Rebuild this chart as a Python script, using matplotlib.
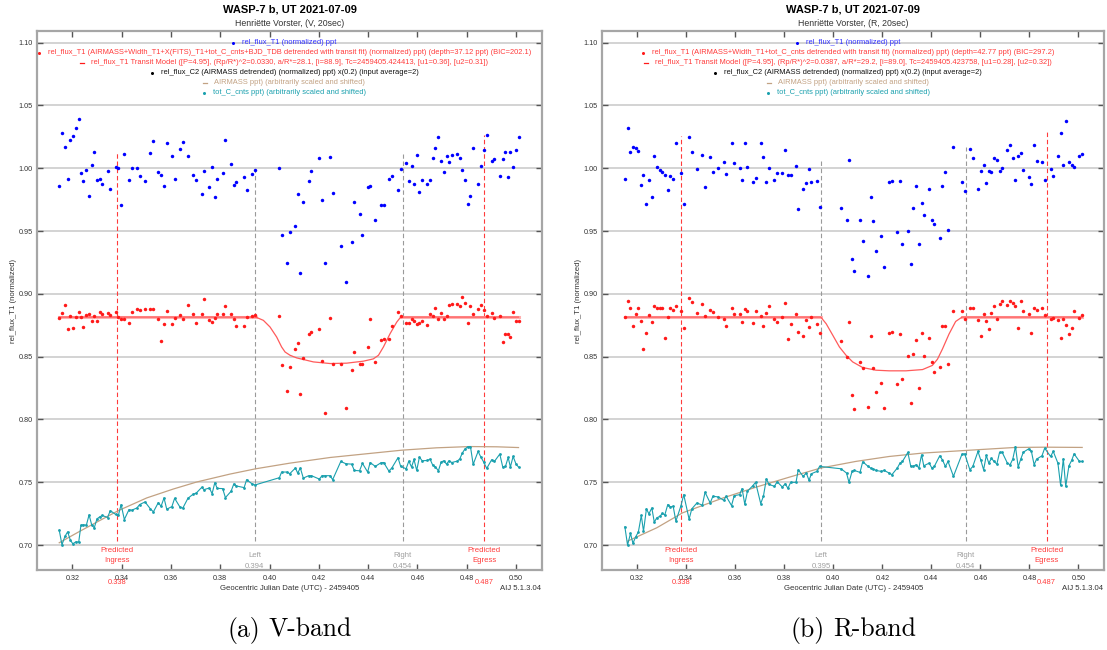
import matplotlib
matplotlib.use("Agg")
import matplotlib.pyplot as plt
from matplotlib.lines import Line2D

plt.rcParams['font.family'] = ['Liberation Sans', 'DejaVu Sans']

# ---------------- V-band data ----------------
tV = [0.3147, 0.3158, 0.3170, 0.3181, 0.3192, 0.3202, 0.3215, 0.3226, 0.3235, 0.3245,
      0.3257, 0.3268, 0.3279, 0.3289, 0.3300, 0.3311, 0.3322, 0.3343, 0.3354, 0.3376,
      0.3387, 0.3398, 0.3411, 0.3430, 0.3441, 0.3462, 0.3473, 0.3495, 0.3517, 0.3529,
      0.3549, 0.3560, 0.3572, 0.3583, 0.3604, 0.3615, 0.3637, 0.3648, 0.3669, 0.3691,
      0.3702, 0.3725, 0.3734, 0.3756, 0.3767, 0.3778, 0.3788, 0.3810, 0.3821, 0.3844,
      0.3855, 0.3866, 0.3897, 0.3907, 0.3930, 0.3941,
      0.4040, 0.4049, 0.4071, 0.4082, 0.4105, 0.4114, 0.4125, 0.4137, 0.4159, 0.4170,
      0.4202, 0.4213, 0.4224, 0.4246, 0.4256, 0.4289, 0.4310, 0.4333, 0.4344, 0.4365,
      0.4377, 0.4398, 0.4408, 0.4429, 0.4452, 0.4463, 0.4484, 0.4496,
      0.4521, 0.4532, 0.4554, 0.4565, 0.4576, 0.4586, 0.4597, 0.4608, 0.4619, 0.4640,
      0.4651, 0.4662, 0.4673, 0.4685, 0.4696, 0.4707, 0.4718, 0.4728, 0.4739, 0.4762,
      0.4772, 0.4782, 0.4792, 0.4804, 0.4815, 0.4826, 0.4846, 0.4858, 0.4868, 0.4881,
      0.4901, 0.4912, 0.4934, 0.4946, 0.4957, 0.4968, 0.4977, 0.4988, 0.5000, 0.5010]

blueV = [0.9858, 1.0283, 1.0173, 0.9917, 1.0229, 1.0259, 1.0323, 1.0392, 0.9960, 0.9898,
         0.9989, 0.9776, 1.0029, 1.0133, 0.9906, 0.9914, 0.9877, 0.9978, 0.9832, 1.0008,
         1.0002, 0.9711, 1.0115, 0.9906, 1.0005, 1.0002, 0.9936, 0.9898, 1.0123, 1.0219,
         0.9968, 0.9946, 0.9858, 1.0203, 1.0096, 0.9917, 1.0157, 1.0208, 1.0096, 0.9944,
         0.9904, 0.9797, 0.9981, 0.9848, 1.0008, 0.9770, 0.9917, 0.9962, 1.0227, 1.0034,
         0.9864, 0.9888, 0.9933, 0.9824, 0.9952, 0.9989,
         1.0002, 0.9471, 0.9242, 0.9490, 0.9538, 0.9792, 0.9167, 0.9733, 0.9898, 0.9978,
         1.0080, 0.9749, 0.9247, 1.0093, 0.9802, 0.9380, 0.9095, 0.9412, 0.9733, 0.9637,
         0.9466, 0.9853, 0.9861, 0.9586, 0.9711, 0.9711, 0.9914, 0.9941,
         0.9824, 0.9994, 1.0045, 0.9896, 1.0018, 0.9872, 1.0109, 0.9810, 0.9904, 0.9877,
         0.9904, 1.0080, 1.0163, 1.0248, 1.0058, 0.9973, 1.0099, 1.0050, 1.0104, 1.0115,
         1.0085, 0.9986, 0.9904, 0.9717, 0.9781, 1.0163, 0.9874, 1.0018, 1.0149, 1.0264,
         1.0058, 1.0077, 0.9936, 1.0077, 1.0128, 0.9928, 1.0133, 1.0010, 1.0149, 1.0248]

redV = [0.8807, 0.8849, 0.8915, 0.8717, 0.8826, 0.8725, 0.8818, 0.8857, 0.8818, 0.8736,
        0.8834, 0.8841, 0.8786, 0.8826, 0.8786, 0.8857, 0.8841, 0.8844, 0.8834, 0.8857,
        0.8815, 0.8797, 0.8797, 0.8767, 0.8857, 0.8876, 0.8868, 0.8876, 0.8876, 0.8876,
        0.8799, 0.8627, 0.8762, 0.8860, 0.8757, 0.8810, 0.8831, 0.8797, 0.8913, 0.8841,
        0.8767, 0.8839, 0.8960, 0.8794, 0.8778, 0.8807, 0.8836, 0.8836, 0.8902, 0.8836,
        0.8797, 0.8746, 0.8746, 0.8812, 0.8820, 0.8828,
        0.8823, 0.8434, 0.8226, 0.8419, 0.8559, 0.8609, 0.8202, 0.8490, 0.8683, 0.8699,
        0.8723, 0.8469, 0.8049, 0.8807, 0.8440, 0.8445, 0.8094, 0.8392, 0.8535, 0.8445,
        0.8445, 0.8580, 0.8802, 0.8461, 0.8633, 0.8643, 0.8641, 0.8746,
        0.8857, 0.8823, 0.8767, 0.8767, 0.8799, 0.8786, 0.8757, 0.8767, 0.8786, 0.8754,
        0.8841, 0.8820, 0.8889, 0.8802, 0.8847, 0.8802, 0.8826, 0.8915, 0.8921, 0.8923,
        0.8907, 0.8976, 0.8926, 0.8765, 0.8907, 0.8839, 0.8881, 0.8910, 0.8873, 0.8826,
        0.8847, 0.8804, 0.8823, 0.8614, 0.8677, 0.8683, 0.8659, 0.8857, 0.8783, 0.8786]

cyanV = [0.7118, 0.7002, 0.7068, 0.7105, 0.7039, 0.7010, 0.7026, 0.7023, 0.7158, 0.7161,
         0.7158, 0.7240, 0.7158, 0.7137, 0.7208, 0.7224, 0.7235, 0.7219, 0.7274, 0.7243,
         0.7237, 0.7322, 0.7203, 0.7282, 0.7277, 0.7295, 0.7322, 0.7343, 0.7287, 0.7264,
         0.7338, 0.7308, 0.7375, 0.7285, 0.7306, 0.7372, 0.7301, 0.7293, 0.7372, 0.7406,
         0.7412, 0.7459, 0.7441, 0.7454, 0.7409, 0.7496, 0.7451, 0.7449, 0.7377, 0.7428,
         0.7486, 0.7470, 0.7457, 0.7520, 0.7486, 0.7478,
         0.7536, 0.7581, 0.7581, 0.7568, 0.7613, 0.7573, 0.7613, 0.7533, 0.7552, 0.7552,
         0.7525, 0.7552, 0.7552, 0.7552, 0.7520, 0.7665, 0.7647, 0.7644, 0.7594, 0.7591,
         0.7650, 0.7581, 0.7657, 0.7626, 0.7655, 0.7657, 0.7589, 0.7613,
         0.7695, 0.7626, 0.7607, 0.7668, 0.7621, 0.7681, 0.7594, 0.7700, 0.7671, 0.7673,
         0.7684, 0.7636, 0.7621, 0.7591, 0.7660, 0.7671, 0.7644, 0.7671, 0.7657, 0.7668,
         0.7687, 0.7732, 0.7763, 0.7782, 0.7784, 0.7642, 0.7745, 0.7697, 0.7663, 0.7610,
         0.7679, 0.7665, 0.7724, 0.7621, 0.7626, 0.7697, 0.7621, 0.7705, 0.7644, 0.7621]

model_tV = [0.3147, 0.3944, 0.3975, 0.4002, 0.4029, 0.4049, 0.4063, 0.4083, 0.4110, 0.4178,
            0.4246, 0.4313, 0.4381, 0.4421, 0.4442, 0.4462, 0.4489, 0.4516, 0.4532, 0.5010]
modelV = [0.8815, 0.8815, 0.8789, 0.8736, 0.8656, 0.8577, 0.8537, 0.8511, 0.8490, 0.8458,
          0.8445, 0.8448, 0.8464, 0.8482, 0.8511, 0.8577, 0.8683, 0.8775, 0.8815, 0.8815]

airm_tV = [0.3147, 0.3231, 0.3299, 0.3387, 0.3502, 0.3610, 0.3705, 0.3840, 0.3944, 0.4083,
           0.4246, 0.4381, 0.4536, 0.4678, 0.4813, 0.4922, 0.5010]
airmV = [0.7018, 0.7110, 0.7182, 0.7274, 0.7375, 0.7446, 0.7502, 0.7565, 0.7607, 0.7652,
         0.7697, 0.7724, 0.7755, 0.7774, 0.7784, 0.7782, 0.7776]

# ---------------- R-band data ----------------
tR = [0.3150, 0.3161, 0.3173, 0.3183, 0.3194, 0.3205, 0.3217, 0.3226, 0.3238, 0.3248,
      0.3260, 0.3270, 0.3280, 0.3293, 0.3303, 0.3313, 0.3325, 0.3336, 0.3347, 0.3358,
      0.3379, 0.3390, 0.3412, 0.3423, 0.3444, 0.3466, 0.3477, 0.3498, 0.3509, 0.3531,
      0.3553, 0.3563, 0.3585, 0.3596, 0.3618, 0.3628, 0.3639, 0.3650, 0.3672, 0.3683,
      0.3704, 0.3715, 0.3727, 0.3738, 0.3760, 0.3771, 0.3792, 0.3804, 0.3815, 0.3826,
      0.3848, 0.3857, 0.3877, 0.3890, 0.3901, 0.3911, 0.3933, 0.3944,
      0.4032, 0.4054, 0.4064, 0.4077, 0.4086, 0.4109, 0.4120, 0.4142, 0.4152, 0.4163,
      0.4174, 0.4196, 0.4207, 0.4228, 0.4239, 0.4261, 0.4272, 0.4282, 0.4304, 0.4316,
      0.4327, 0.4338, 0.4349, 0.4360, 0.4369, 0.4391, 0.4402, 0.4412, 0.4434, 0.4445,
      0.4457, 0.4468, 0.4490,
      0.4525, 0.4536, 0.4557, 0.4569, 0.4590, 0.4601, 0.4613, 0.4624, 0.4634, 0.4645,
      0.4656, 0.4667, 0.4678, 0.4689, 0.4710, 0.4721, 0.4732, 0.4743, 0.4754, 0.4764,
      0.4775, 0.4797, 0.4808, 0.4819, 0.4829, 0.4851, 0.4862, 0.4886, 0.4897, 0.4916,
      0.4927, 0.4938, 0.4948, 0.4961, 0.4972, 0.4982, 0.5004, 0.5015]

blueR = [0.9912, 1.0323, 1.0128, 1.0171, 1.0160, 1.0139, 0.9869, 0.9949, 0.9717, 0.9906,
         0.9770, 1.0098, 1.0013, 0.9989, 0.9968, 0.9949, 0.9824, 0.9936, 0.9917, 1.0200,
         0.9960, 0.9717, 1.0248, 1.0128, 0.9992, 1.0109, 0.9848, 1.0093, 0.9973, 1.0000,
         1.0048, 0.9952, 1.0200, 1.0042, 1.0000, 0.9906, 1.0203, 1.0013, 0.9893, 0.9920,
         1.0200, 1.0088, 0.9893, 1.0002, 0.9904, 0.9960, 0.9960, 1.0147, 0.9949, 0.9949,
         1.0016, 0.9677, 0.9837, 0.9880, 0.9992, 0.9893, 0.9898, 0.9695,
         0.9682, 0.9586, 1.0064, 0.9279, 0.9180, 0.9591, 0.9423, 0.9140, 0.9773, 0.9581,
         0.9338, 0.9461, 0.9212, 0.9888, 0.9898, 0.9492, 0.9898, 0.9396, 0.9500, 0.9236,
         0.9682, 0.9858, 0.9396, 0.9722, 0.9631, 0.9837, 0.9591, 0.9557, 0.9447, 0.9858,
         0.9973, 0.9511, 1.0173,
         0.9888, 0.9821, 1.0157, 1.0082, 0.9832, 0.9981, 1.0029, 0.9880, 0.9976, 0.9973,
         1.0082, 1.0066, 0.9976, 1.0002, 1.0147, 1.0184, 1.0082, 0.9904, 1.0098, 1.0123,
         0.9984, 0.9928, 0.9872, 1.0184, 1.0061, 1.0053, 0.9904, 0.9997, 0.9941, 1.0098,
         1.0283, 1.0026, 1.0379, 1.0053, 1.0026, 1.0010, 1.0096, 1.0112]

redR = [0.8812, 0.8942, 0.8886, 0.8746, 0.8841, 0.8886, 0.8781, 0.8564, 0.8688, 0.8834,
        0.8775, 0.8900, 0.8886, 0.8886, 0.8884, 0.8649, 0.8818, 0.8886, 0.8873, 0.8905,
        0.8860, 0.8728, 0.8968, 0.8939, 0.8847, 0.8921, 0.8826, 0.8873, 0.8855, 0.8812,
        0.8802, 0.8746, 0.8886, 0.8841, 0.8836, 0.8773, 0.8881, 0.8863, 0.8767, 0.8863,
        0.8826, 0.8746, 0.8847, 0.8902, 0.8802, 0.8773, 0.8812, 0.8931, 0.8643, 0.8762,
        0.8836, 0.8693, 0.8662, 0.8789, 0.8738, 0.8815, 0.8762, 0.8691,
        0.8622, 0.8495, 0.8773, 0.8191, 0.8083, 0.8461, 0.8411, 0.8099, 0.8662, 0.8411,
        0.8220, 0.8289, 0.8088, 0.8691, 0.8696, 0.8281, 0.8683, 0.8323, 0.8508, 0.8128,
        0.8519, 0.8633, 0.8247, 0.8688, 0.8503, 0.8646, 0.8458, 0.8379, 0.8416, 0.8746,
        0.8741, 0.8445, 0.8863,
        0.8863, 0.8799, 0.8886, 0.8886, 0.8794, 0.8662, 0.8841, 0.8783, 0.8720, 0.8849,
        0.8902, 0.8797, 0.8921, 0.8947, 0.8910, 0.8944, 0.8931, 0.8902, 0.8730, 0.8947,
        0.8865, 0.8841, 0.8688, 0.8889, 0.8870, 0.8886, 0.8828, 0.8799, 0.8807, 0.8794,
        0.8646, 0.8797, 0.8749, 0.8678, 0.8725, 0.8863, 0.8807, 0.8834]

cyanR = [0.7145, 0.6999, 0.7092, 0.7013, 0.7065, 0.7103, 0.7235, 0.7110, 0.7288, 0.7248,
         0.7295, 0.7182, 0.7216, 0.7229, 0.7251, 0.7240, 0.7322, 0.7303, 0.7309, 0.7190,
         0.7314, 0.7401, 0.7206, 0.7288, 0.7335, 0.7317, 0.7420, 0.7335, 0.7388, 0.7383,
         0.7356, 0.7388, 0.7314, 0.7393, 0.7401, 0.7449, 0.7325, 0.7428, 0.7473, 0.7499,
         0.7330, 0.7388, 0.7525, 0.7483, 0.7467, 0.7504, 0.7462, 0.7488, 0.7451, 0.7499,
         0.7499, 0.7599, 0.7547, 0.7573, 0.7515, 0.7568, 0.7586, 0.7626,
         0.7607, 0.7573, 0.7499, 0.7589, 0.7594, 0.7578, 0.7663, 0.7626, 0.7613, 0.7605,
         0.7594, 0.7586, 0.7594, 0.7573, 0.7560, 0.7613, 0.7652, 0.7665, 0.7737, 0.7626,
         0.7628, 0.7639, 0.7613, 0.7718, 0.7631, 0.7652, 0.7613, 0.7626, 0.7710, 0.7679,
         0.7626, 0.7665, 0.7547,
         0.7724, 0.7726, 0.7599, 0.7626, 0.7745, 0.7679, 0.7599, 0.7713, 0.7652, 0.7689,
         0.7665, 0.7644, 0.7737, 0.7737, 0.7652, 0.7639, 0.7684, 0.7784, 0.7621, 0.7681,
         0.7739, 0.7766, 0.7745, 0.7639, 0.7684, 0.7710, 0.7771, 0.7705, 0.7745, 0.7652,
         0.7475, 0.7687, 0.7467, 0.7631, 0.7673, 0.7726, 0.7665, 0.7665]

model_tR = [0.3150, 0.3949, 0.3971, 0.3998, 0.4025, 0.4052, 0.4079, 0.4120, 0.4174, 0.4228,
            0.4296, 0.4364, 0.4404, 0.4425, 0.4445, 0.4472, 0.4499, 0.4525, 0.5015]
modelR = [0.8815, 0.8815, 0.8762, 0.8670, 0.8577, 0.8511, 0.8458, 0.8413, 0.8392, 0.8387,
          0.8387, 0.8397, 0.8430, 0.8480, 0.8560, 0.8680, 0.8780, 0.8815, 0.8815]

airm_tR = [0.3161, 0.3280, 0.3385, 0.3551, 0.3687, 0.3822, 0.3949, 0.4093, 0.4228, 0.4364,
           0.4540, 0.4743, 0.4867, 0.5015]
airmR = [0.7031, 0.7137, 0.7256, 0.7375, 0.7462, 0.7541, 0.7613, 0.7666, 0.7705, 0.7732,
         0.7753, 0.7777, 0.7779, 0.7777]

# ---------------- labels ----------------
title = "WASP-7 b, UT 2021-07-09"
subtitles = ["Henriëtte Vorster, (V, 20sec)", "Henriëtte Vorster, (R, 20sec)"]
captions = [("(a)", "V-band"), ("(b)", "R-band")]
legend_V = ["rel_flux_T1 (normalized) ppt",
            "rel_flux_T1 (AIRMASS+Width_T1+X(FITS)_T1+tot_C_cnts+BJD_TDB detrended with transit fit) (normalized) ppt) (depth=37.12 ppt) (BIC=202.1)",
            "rel_flux_T1 Transit Model ([P=4.95], (Rp/R*)^2=0.0330, a/R*=28.1, [i=88.9], Tc=2459405.424413, [u1=0.36], [u2=0.31])",
            "rel_flux_C2 (AIRMASS detrended) (normalized) ppt) x(0.2) (input average=2)",
            "AIRMASS ppt) (arbitrarily scaled and shifted)",
            "tot_C_cnts ppt) (arbitrarily scaled and shifted)"]
legend_R = ["rel_flux_T1 (normalized) ppt",
            "rel_flux_T1 (AIRMASS+Width_T1+tot_C_cnts detrended with transit fit) (normalized) ppt) (depth=42.77 ppt) (BIC=297.2)",
            "rel_flux_T1 Transit Model ([P=4.95], (Rp/R*)^2=0.0387, a/R*=29.2, [i=89.0], Tc=2459405.423758, [u1=0.28], [u2=0.32])",
            "rel_flux_C2 (AIRMASS detrended) (normalized) ppt) x(0.2) (input average=2)",
            "AIRMASS ppt) (arbitrarily scaled and shifted)",
            "tot_C_cnts ppt) (arbitrarily scaled and shifted)"]
ingress, egress = 0.338, 0.487
left_V, right_V = 0.394, 0.454
left_R, right_R = 0.395, 0.454
xticks = [0.32, 0.34, 0.36, 0.38, 0.40, 0.42, 0.44, 0.46, 0.48, 0.50]
yticks = [0.70, 0.75, 0.80, 0.85, 0.90, 0.95, 1.00, 1.05, 1.10]

# ---------------- figure ----------------
W, H = 1107, 650
fig = plt.figure(figsize=(W / 100, H / 100), dpi=100)

BLUE = '#0000ff'
RED = '#ff1a1a'
REDTXT = '#ff3b3b'
TAN = '#c2a283'
CYAN = '#1aa0ae'
GRAYL = '#9a9a9a'
LFS = 5.45

panels = [
    dict(box=(37.3, 31, 541.7, 570), t=tV, b=blueV, r=redV, c=cyanV, mt=model_tV, m=modelV,
         at=airm_tV, a=airmV, left=left_V, right=right_V, legend=legend_V,
         tops=dict(ing=1.012, lft=0.9994, rgt=1.0112, egr=1.0267)),
    dict(box=(602.3, 31, 1104, 570), t=tR, b=blueR, r=redR, c=cyanR, mt=model_tR, m=modelR,
         at=airm_tR, a=airmR, left=left_R, right=right_R, legend=legend_R,
         tops=dict(ing=1.0253, lft=1.0067, rgt=1.0173, egr=1.0285)),
]
legend_colors = [('#3030ff', 'dot', BLUE), (REDTXT, 'dot', RED), (REDTXT, 'dash', RED),
                 ('#111111', 'dot', 'black'), (TAN, 'dash', TAN), (CYAN, 'dot', CYAN)]
legend_y = [42.5, 52.5, 62.5, 72.5, 82.5, 92.5]

legend_items = []
cap_items = []
for i, p in enumerate(panels):
    L, T, R, B = p['box']
    ax = fig.add_axes([L / W, 1 - B / H, (R - L) / W, (B - T) / H])
    ax.set_xlim(0.3058, 0.5104)
    ax.set_ylim(0.6801, 1.1093)
    ax.set_yticks(yticks)
    ax.set_yticklabels([f"{v:.2f}" for v in yticks])
    ax.set_xticks(xticks)
    ax.set_xticklabels([f"{v:.2f}" for v in xticks])
    ax.tick_params(direction='in', length=4, width=1, color='#555555', labelcolor='#333333',
                   labelsize=5.2, top=True, right=True, pad=3.5)
    ax.yaxis.grid(True, color='#d0d0d0', lw=1.3)
    ax.set_axisbelow(True)
    for s in ax.spines.values():
        s.set_color('#a6a6a6')
        s.set_linewidth(1.6)

    t = p['t']
    tops = p['tops']
    dash = (0, (4, 2.5))
    ax.plot([ingress, ingress], [0.703, tops['ing']], ls=dash, color='#ff3b3b', lw=0.8, zorder=2)
    ax.plot([egress, egress], [0.703, tops['egr']], ls=dash, color='#ff3b3b', lw=0.8, zorder=2)
    ax.plot([p['left'], p['left']], [0.703, tops['lft']], ls=dash, color=GRAYL, lw=0.8, zorder=2)
    ax.plot([p['right'], p['right']], [0.703, tops['rgt']], ls=dash, color=GRAYL, lw=0.8, zorder=2)

    ax.plot(p['at'], p['a'], color=TAN, lw=0.9, zorder=3)
    ax.plot(t, p['c'], color=CYAN, lw=0.8, marker='o', ms=2.0, mew=0, zorder=4)
    mt, m = p['mt'], p['m']
    ax.plot(mt[:2], m[:2], color='#ffb0b0', lw=2.2, zorder=4)
    ax.plot(mt[-2:], m[-2:], color='#ffb0b0', lw=2.2, zorder=4)
    ax.plot(mt, m, color='#ff5a5a', lw=0.9, zorder=5)
    ax.plot(t, p['r'], ls='none', marker='o', ms=2.5, mew=0, color=RED, zorder=6)
    ax.plot(t, p['b'], ls='none', marker='o', ms=2.5, mew=0, color=BLUE, zorder=6)

    tr = ax.get_xaxis_transform()
    fs = 5.6
    for x, a, b, col in [(ingress, 'Predicted', 'Ingress', REDTXT), (egress, 'Predicted', 'Egress', REDTXT)]:
        ax.text(x, 0.0353, a, transform=tr, ha='center', va='center', fontsize=fs, color=col)
        ax.text(x, 0.0167, b, transform=tr, ha='center', va='center', fontsize=fs, color=col)
        ax.text(x, -0.0236, f"{x:.3f}", transform=tr, ha='center', va='center', fontsize=5.4,
                color=col, clip_on=False)
    for x, a in [(p['left'], 'Left'), (p['right'], 'Right')]:
        ax.text(x, 0.026, a, transform=tr, ha='center', va='center', fontsize=fs, color='#a0a0a0')
        ax.text(x, 0.0056, f"{x:.3f}", transform=tr, ha='center', va='center', fontsize=fs,
                color='#a0a0a0', clip_on=False)

    cx = (L + R) / 2
    fig.text(cx / W, 1 - 10 / H, title, ha='center', va='center', fontsize=8, fontweight='bold')
    fig.text(cx / W, 1 - 23.5 / H, subtitles[i], ha='center', va='center', fontsize=6.3, color='#333333')
    fig.text(cx / W, 1 - 589 / H, "Geocentric Julian Date (UTC) - 2459405", ha='center', va='center',
             fontsize=5.6, color='#333333')
    fig.text((R - 1) / W, 1 - 589 / H, "AIJ 5.1.3.04", ha='right', va='center', fontsize=5.6, color='#333333')
    fig.text((L - 24) / W, 1 - ((T + B) / 2) / H, "rel_flux_T1 (normalized)", rotation=90, ha='center',
             va='center', fontsize=5.6, color='#333333')

    for k, txt in enumerate(p['legend']):
        tcol, kind, mcol = legend_colors[k]
        tx = fig.text(cx / W, 1 - legend_y[k] / H, txt, ha='center', va='center', fontsize=LFS, color=tcol,
                      zorder=10)
        legend_items.append((tx, kind, mcol))

    c1 = fig.text(cx / W, 1 - 630 / H, captions[i][0], ha='left', va='center', fontsize=18.5, family='cmr10')
    c2 = fig.text(cx / W, 1 - 630 / H, captions[i][1], ha='left', va='center', fontsize=18.5, family='cmr10')
    cap_items.append((cx, c1, c2))

fig.canvas.draw()
rend = fig.canvas.get_renderer()
for tx, kind, mcol in legend_items:
    bb = tx.get_window_extent(rend)
    mx = bb.x0 - 9
    my = (bb.y0 + bb.y1) / 2
    if kind == 'dot':
        fig.add_artist(Line2D([mx / W], [my / H], transform=fig.transFigure, marker='o', ms=2.2,
                              mew=0, color=mcol, ls='none'))
    else:
        fig.add_artist(Line2D([(mx - 2) / W, (mx + 2) / W], [my / H, my / H], transform=fig.transFigure,
                              color=mcol, lw=0.9))

for cx, c1, c2 in cap_items:
    w1 = c1.get_window_extent(rend).width
    w2 = c2.get_window_extent(rend).width
    gap = 0.333 * 18.5 * 100 / 72
    total = w1 + gap + w2
    x0 = cx - total / 2
    c1.set_x(x0 / W)
    c2.set_x((x0 + w1 + gap) / W)

fig.savefig("out.png", dpi=100)
